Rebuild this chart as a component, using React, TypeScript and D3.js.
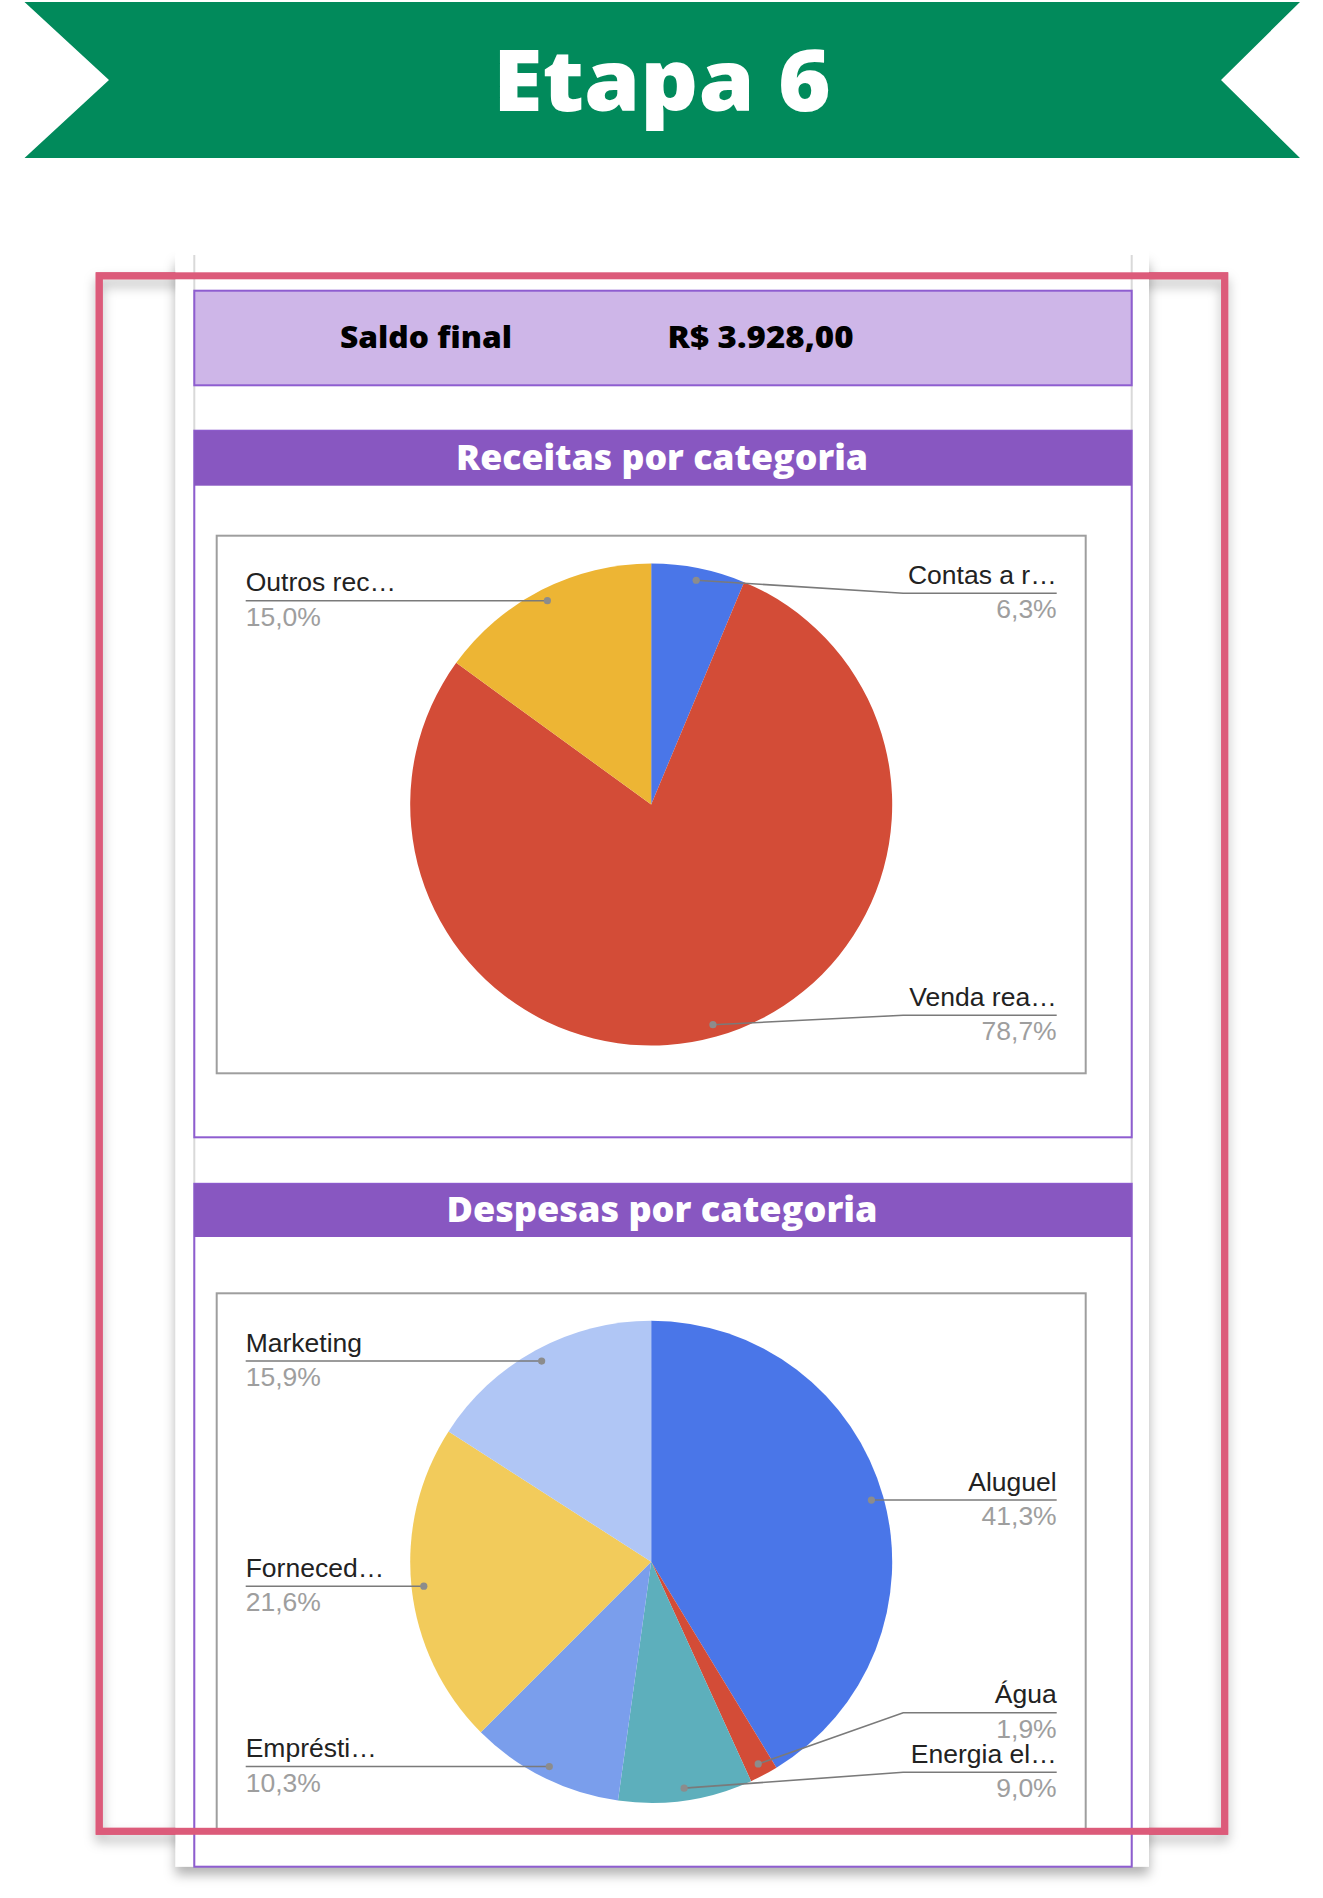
import React from "react";
import * as d3 from "d3";

const pageTitle = "Etapa 6";
const saldoLabel = "Saldo final";
const saldoValue = "R$ 3.928,00";

const receitasTitle = "Receitas por categoria";
const receitasLabels = ["Contas a r…", "Venda rea…", "Outros rec…"];
const receitasValues = [6.3, 78.7, 15.0];
const receitasColors = ["#4A76E8", "#D34C37", "#EDB534"];

const despesasTitle = "Despesas por categoria";
const despesasLabels = ["Aluguel", "Água", "Energia el…", "Emprésti…", "Forneced…", "Marketing"];
const despesasValues = [41.3, 1.9, 9.0, 10.3, 21.6, 15.9];
const despesasColors = ["#4A76E8", "#D34C37", "#5DAFBC", "#7A9EEC", "#F2CB5B", "#B0C6F5"];

const W = 1323;
const H = 1898;
const LABEL_FONT = "'Liberation Sans', Arial, sans-serif";
const HEAD_FONT = "'Open Sans', Lato, 'DejaVu Sans', sans-serif";

type PieProps = {
  x: number; y: number; w: number; h: number;
  labels: string[]; values: number[]; colors: string[];
};

function PieChart({ x, y, w, h, labels, values, colors }: PieProps) {
  const cx = x + w / 2;
  const cy = y + h / 2;
  const R = 241;
  const pie = d3.pie<number>().sort(null).value((d) => d)(values);
  const arc = d3.arc<d3.PieArcDatum<number>>().innerRadius(0).outerRadius(R);
  const total = d3.sum(values);
  const minY = y + 57.6;
  const maxY = y + h - 58;
  const gap = 59.6;
  const textLeft = x + 29;
  const textRight = x + w - 29;
  const elbow = R + 11;

  const items = pie.map((p, i) => {
    const a = (p.startAngle + p.endAngle) / 2;
    const r = R * 0.949;
    const dx = cx + Math.sin(a) * r;
    const dy = cy - Math.cos(a) * r;
    return { i, a, dx, dy, side: Math.sin(a) >= 0 ? "right" : "left", ly: Math.max(minY, Math.min(maxY, dy)) };
  });
  ["left", "right"].forEach((side) => {
    const s = items.filter((it) => it.side === side).sort((a, b) => a.dy - b.dy);
    for (let k = s.length - 2; k >= 0; k--) {
      if (s[k + 1].ly - s[k].ly < gap) s[k].ly = s[k + 1].ly - gap;
    }
    for (let k = 1; k < s.length; k++) {
      if (s[k].ly - s[k - 1].ly < gap) s[k].ly = s[k - 1].ly + gap;
    }
  });

  const fmt = (v: number) => ((v / total) * 100).toFixed(1).replace(".", ",") + "%";

  return (
    <g>
      <rect x={x} y={y} width={w} height={h} fill="#fff" stroke="#9E9E9E" strokeWidth={2} />
      <g transform={`translate(${cx},${cy})`}>
        {pie.map((p, i) => (
          <path key={i} d={arc(p) || ""} fill={colors[i]} />
        ))}
      </g>
      {items.map((it) => {
        const right = it.side === "right";
        let d: string;
        if (Math.abs(it.ly - it.dy) < 0.5) {
          d = right ? `M${it.dx},${it.dy}H${textRight}` : `M${it.dx},${it.dy}H${textLeft}`;
        } else {
          const ex = right ? cx + elbow : cx - elbow;
          d = `M${it.dx},${it.dy}L${ex},${it.ly}H${right ? textRight : textLeft}`;
        }
        const tx = right ? textRight : textLeft;
        const anchor = right ? "end" : "start";
        return (
          <g key={it.i}>
            <path d={d} fill="none" stroke="#7A7A7A" strokeWidth={1.6} />
            <circle cx={it.dx} cy={it.dy} r={3.6} fill="#8C8C8C" />
            <text x={tx} y={it.ly - 9.3} textAnchor={anchor} fontFamily={LABEL_FONT} fontSize={26.5} fill="#222">
              {labels[it.i]}
            </text>
            <text x={tx} y={it.ly + 25} textAnchor={anchor} fontFamily={LABEL_FONT} fontSize={26.5} fill="#9E9E9E">
              {fmt(values[it.i])}
            </text>
          </g>
        );
      })}
    </g>
  );
}

export default function App() {
  const boxL = 194.3;
  const boxR = 1131.7;
  const purple = "#8E5DD0";
  return (
    <div style={{ position: "absolute", left: 0, top: 0, width: W, height: H, background: "#fff" }}>
      <svg width={W} height={H} viewBox={`0 0 ${W} ${H}`}>
        <defs>
          <filter id="pinkShadow" x="-10%" y="-10%" width="120%" height="120%">
            <feDropShadow dx="0" dy="7" stdDeviation="6" floodColor="#000" floodOpacity="0.28" />
          </filter>
          <filter id="cardShadow" x="-10%" y="-10%" width="120%" height="120%">
            <feDropShadow dx="0" dy="8" stdDeviation="6" floodColor="#000" floodOpacity="0.3" />
          </filter>
        </defs>

        {/* banner */}
        <polygon
          points="24.5,2 1300,2 1221,80 1300,158 24.5,158 109,80"
          fill="#018A5B"
        />
        <text x={662} y={111} textAnchor="middle" fontFamily={HEAD_FONT} fontWeight={800}
          fontSize={85} fill="#fff" textLength={338} lengthAdjust="spacingAndGlyphs">
          {pageTitle}
        </text>

        {/* pink frame shadow (beneath card) */}
        <rect x={99.2} y={275.8} width={1125.5} height={1555.5} fill="none" stroke="#DC5B7A" strokeWidth={7} filter="url(#pinkShadow)" />

        {/* card */}
        <rect x={175.5} y={255} width={973.5} height={1611.7} fill="#fff" filter="url(#cardShadow)" />
        <rect x={175.5} y={230} width={973.5} height={40} fill="#fff" />
        <line x1={boxL} x2={boxL} y1={255} y2={1866.7} stroke="#D9D9D9" strokeWidth={2} />
        <line x1={boxR} x2={boxR} y1={255} y2={1866.7} stroke="#D9D9D9" strokeWidth={2} />

        {/* saldo box */}
        <rect x={boxL} y={290.7} width={boxR - boxL} height={94.6} fill="#CEB6E8" stroke={purple} strokeWidth={2} />
        <text x={340} y={348.3} fontFamily={HEAD_FONT} fontWeight={800} fontSize={30} fill="#000"
          textLength={172} lengthAdjust="spacingAndGlyphs">{saldoLabel}</text>
        <text x={667.6} y={348.3} fontFamily={HEAD_FONT} fontWeight={800} fontSize={30} fill="#000"
          textLength={186} lengthAdjust="spacingAndGlyphs">{saldoValue}</text>

        {/* receitas section */}
        <rect x={boxL} y={430.7} width={boxR - boxL} height={1137.3 - 430.7} fill="#fff" stroke={purple} strokeWidth={2} />
        <rect x={boxL} y={430.7} width={boxR - boxL} height={55} fill="#8857C1" />
        <text x={662} y={470} textAnchor="middle" fontFamily={HEAD_FONT} fontWeight={800} fontSize={35} fill="#fff"
          textLength={412} lengthAdjust="spacingAndGlyphs">{receitasTitle}</text>
        <PieChart x={216.7} y={535.7} w={869} h={537.6}
          labels={receitasLabels} values={receitasValues} colors={receitasColors} />

        {/* despesas section */}
        <rect x={boxL} y={1183.8} width={boxR - boxL} height={1866.7 - 1183.8} fill="#fff" stroke={purple} strokeWidth={2} />
        <rect x={boxL} y={1183.8} width={boxR - boxL} height={53.2} fill="#8857C1" />
        <text x={662} y={1221.5} textAnchor="middle" fontFamily={HEAD_FONT} fontWeight={800} fontSize={35} fill="#fff"
          textLength={431} lengthAdjust="spacingAndGlyphs">{despesasTitle}</text>
        <PieChart x={216.7} y={1293.3} w={869} h={537}
          labels={despesasLabels} values={despesasValues} colors={despesasColors} />

        {/* card bottom cover */}
        <rect x={175.5} y={1866.7} width={973.5} height={1} fill="#fff" opacity={0} />

        {/* pink frame on top */}
        <rect x={99.2} y={275.8} width={1125.5} height={1555.5} fill="none" stroke="#DC5B7A" strokeWidth={7} />
      </svg>
    </div>
  );
}
